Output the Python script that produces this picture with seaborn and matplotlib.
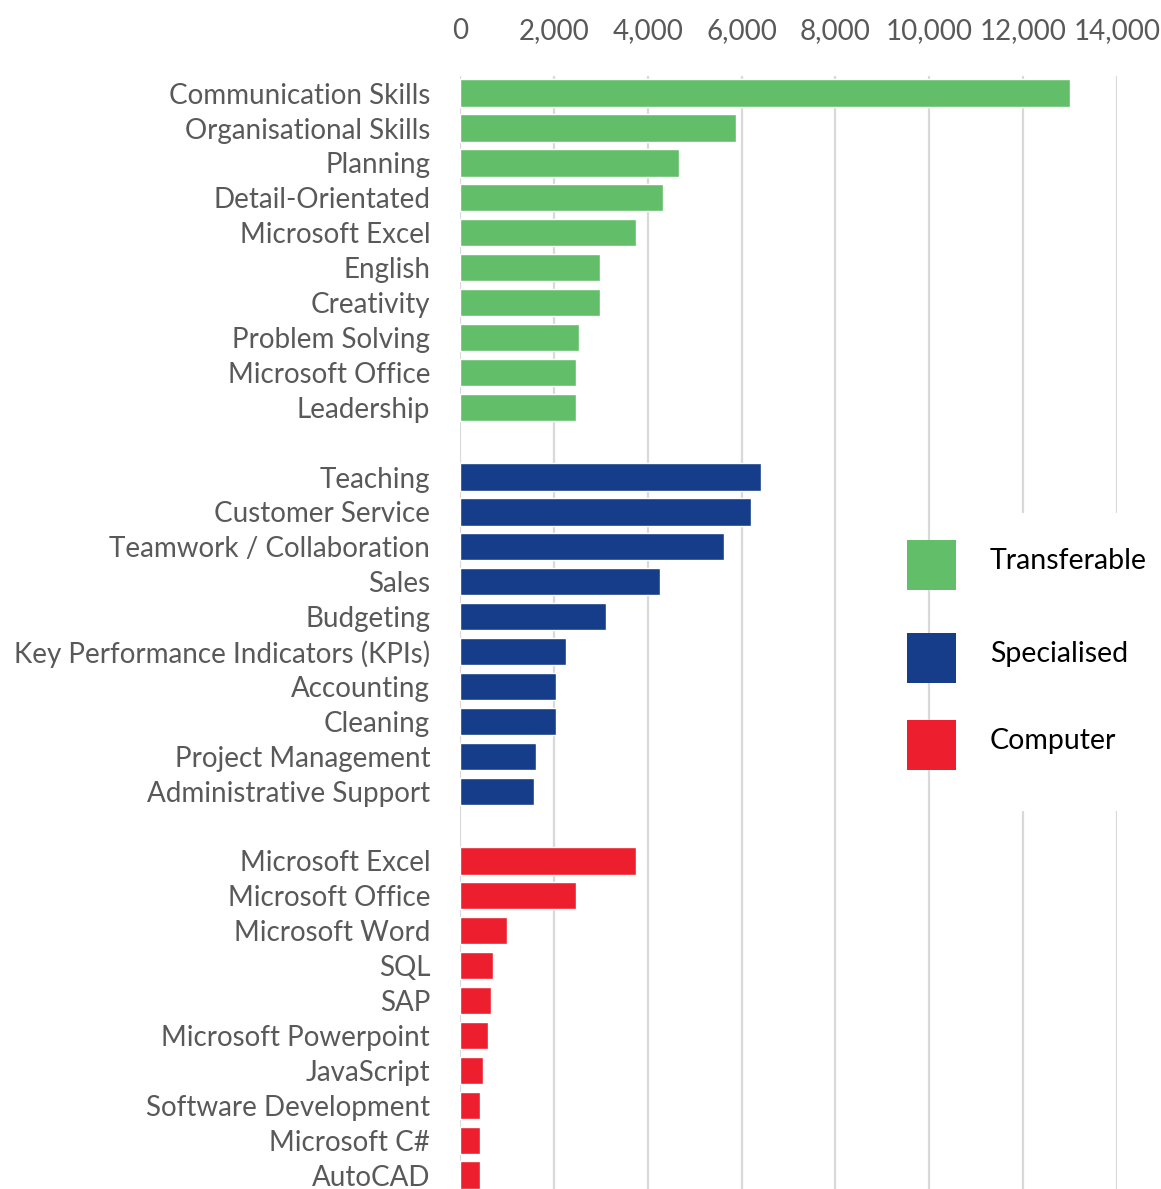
import pandas as pd
import seaborn as sns
import matplotlib.pyplot as plt
from matplotlib.patches import Rectangle

# Skill counts
transferable_skills = ['Communication Skills', 'Organisational Skills', 'Planning', 'Detail-Orientated',
                       'Microsoft Excel', 'English', 'Creativity', 'Problem Solving',
                       'Microsoft Office', 'Leadership']
transferable_counts = [12990, 5890, 4660, 4320, 3740, 2990, 2990, 2540, 2480, 2480]

specialised_skills = ['Teaching', 'Customer Service', 'Teamwork / Collaboration', 'Sales', 'Budgeting',
                      'Key Performance Indicators (KPIs)', 'Accounting', 'Cleaning',
                      'Project Management', 'Administrative Support']
specialised_counts = [6420, 6210, 5630, 4260, 3110, 2250, 2040, 2040, 1630, 1570]

computer_skills = ['Microsoft Excel', 'Microsoft Office', 'Microsoft Word', 'SQL', 'SAP',
                   'Microsoft Powerpoint', 'JavaScript', 'Software Development', 'Microsoft C#', 'AutoCAD']
computer_counts = [3740, 2480, 1000, 700, 660, 600, 490, 430, 430, 430]

groups = ['Transferable', 'Specialised', 'Computer']
colors = {'Transferable': '#63BE6A', 'Specialised': '#153D8A', 'Computer': '#ED1F2F'}

# Build one long table; key keeps duplicate skill names apart
rows = []
order = []
labels = []
for g, skills, counts in [('Transferable', transferable_skills, transferable_counts),
                          ('Specialised', specialised_skills, specialised_counts),
                          ('Computer', computer_skills, computer_counts)]:
    if order:
        order.append('gap_' + g)
        labels.append('')
    for s, c in zip(skills, counts):
        key = g + '|' + s
        rows.append({'key': key, 'skill': s, 'count': c, 'group': g})
        order.append(key)
        labels.append(s)
df = pd.DataFrame(rows)

sns.set_theme(style='white')
plt.rcParams['font.family'] = ['Lato', 'DejaVu Sans']

fig = plt.figure(figsize=(11.61, 11.89), dpi=100)
ax = fig.add_axes([460 / 1161, 0.0, (1117 - 460) / 1161, 1 - 76 / 1189])

sns.barplot(data=df, x='count', y='key', hue='group', order=order, palette=colors,
            dodge=False, width=0.78, legend=False, ax=ax, saturation=1)

ax.set_xlim(0, 14000)
ax.set_ylim(31.4, -0.49)
ax.set_xticks(range(0, 14001, 2000))
ax.set_xticklabels([f'{v:,}' for v in range(0, 14001, 2000)])
ax.set_yticks(range(len(order)))
ax.set_yticklabels(labels)
ax.xaxis.tick_top()
ax.tick_params(axis='x', length=0, pad=23, labelsize=20, labelcolor='#595959')
ax.tick_params(axis='y', length=0, pad=21.5, labelsize=20, labelcolor='#595959')
ax.set_xlabel('')
ax.set_ylabel('')
for sp in ax.spines.values():
    sp.set_visible(False)
ax.grid(axis='x', color='#D9D9D9', linewidth=1.6)
ax.set_axisbelow(True)

# Legend drawn by hand to match the original placement
fig.add_artist(Rectangle((960 / 1161, 1 - 811 / 1189), 201 / 1161, 298 / 1189,
                         transform=fig.transFigure, facecolor='white', edgecolor='none', zorder=5))
for g, top in zip(groups, [540, 633, 720]):
    fig.add_artist(Rectangle((907 / 1161, 1 - (top + 50) / 1189), 49 / 1161, 50 / 1189,
                             transform=fig.transFigure, facecolor=colors[g], edgecolor='none', zorder=6))
    fig.text(990 / 1161, 1 - (top + 21) / 1189, g, fontsize=20.5, color='black',
             va='center', ha='left', zorder=7)

fig.savefig('out.png', dpi=100)
